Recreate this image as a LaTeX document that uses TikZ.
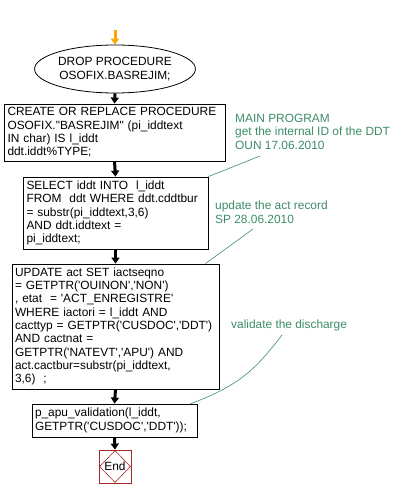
\documentclass[tikz,border=0pt]{standalone}
\usepackage{fontspec}
\setmainfont{Liberation Sans}[Ligatures=TeXOff]
\usetikzlibrary{arrows.meta,shapes.geometric}
\definecolor{cmt}{RGB}{60,140,105}
\definecolor{endred}{RGB}{170,40,40}
\definecolor{startor}{RGB}{255,165,0}
\newcommand{\fs}{\fontsize{11.9pt}{13.3pt}\selectfont}
\tikzset{
  stepbox/.style={draw, line width=0.8pt, align=left, inner sep=0pt, font=\fs},
  flow/.style={line width=3pt, -{Triangle[length=6pt,width=8pt]}},
  cmttext/.style={align=left, anchor=north west, inner sep=0pt, font=\fs, text=cmt},
  cmtline/.style={draw=cmt, line width=0.6pt}
}
\begin{document}
\begin{tikzpicture}[x=1pt,y=-1pt]
\useasboundingbox (0,0) rectangle (404,497);
\coordinate (s) at (115,30);
\node[draw, ellipse, line width=0.8pt, minimum width=136pt, minimum height=48pt, inner sep=0pt, align=center, font=\fs] (drop) at (115,69) {DROP PROCEDURE\\OSOFIX.BASREJIM;};
\node[stepbox, minimum width=221pt, minimum height=57pt, text width=214pt] (b1) at (114.5,132.5) {CREATE OR REPLACE PROCEDURE\\OSOFIX."BASREJIM" (pi\_iddtext\\IN char) IS l\_iddt\\ddt.iddt\%TYPE;};
\node[stepbox, minimum width=185pt, minimum height=72pt, text width=178pt] (b2) at (115.5,213) {SELECT iddt INTO\ \ l\_iddt\\FROM\ \ ddt WHERE ddt.cddtbur\\= substr(pi\_iddtext,3,6)\\AND ddt.iddtext =\\pi\_iddtext;};
\node[stepbox, minimum width=207pt, minimum height=125pt, text width=201pt] (b3) at (115.5,326.5) {UPDATE act SET iactseqno\\= GETPTR('OUINON','NON')\\, etat\ \ = 'ACT\_ENREGISTRE'\\WHERE iactori = l\_iddt AND\\cacttyp = GETPTR('CUSDOC','DDT')\\AND cactnat =\\GETPTR('NATEVT','APU') AND\\act.cactbur=substr(pi\_iddtext,\\3,6)\ \ ;};
\node[stepbox, minimum width=165pt, minimum height=33pt, text width=159pt] (b4) at (114.5,420.5) {p\_apu\_validation(l\_iddt,\\GETPTR('CUSDOC','DDT'));};
\node[draw=endred, line width=0.8pt, minimum width=32pt, minimum height=33pt, inner sep=0pt] (endbox) at (115,466.5) {};
\node[draw=endred, diamond, line width=0.6pt, minimum width=31pt, minimum height=32pt, inner sep=0pt, font=\fs] (end) at (115,466.5) {End};
\draw[flow, startor] (s) -- (drop.north);
\draw[flow] (drop.south) -- (b1.north);
\draw[flow] (b1.south) -- (b2.north);
\draw[flow] (b2.south) -- (b3.north);
\draw[flow] (b3.south) -- (b4.north);
\draw[flow] (b4.south) -- (endbox.north);
\node[cmttext] (c1) at (235,114) {MAIN PROGRAM\\get the internal ID of the DDT\\OUN 17.06.2010};
\node[cmttext] (c2) at (215,201) {update the act record\\SP 28.06.2010};
\node[cmttext] (c3) at (231,320) {validate the discharge};
\coordinate (c1e) at (260,156);
\coordinate (c2e) at (253,229);
\coordinate (c3e) at (282,335);
\draw[cmtline] (c1e) -- (b2.north east);
\draw[cmtline] (c2e) -- ([xshift=-14pt]b3.north east);
\draw[cmtline] (c3e) .. controls (255,370) and (240,385) .. (190,404);
\end{tikzpicture}
\end{document}
